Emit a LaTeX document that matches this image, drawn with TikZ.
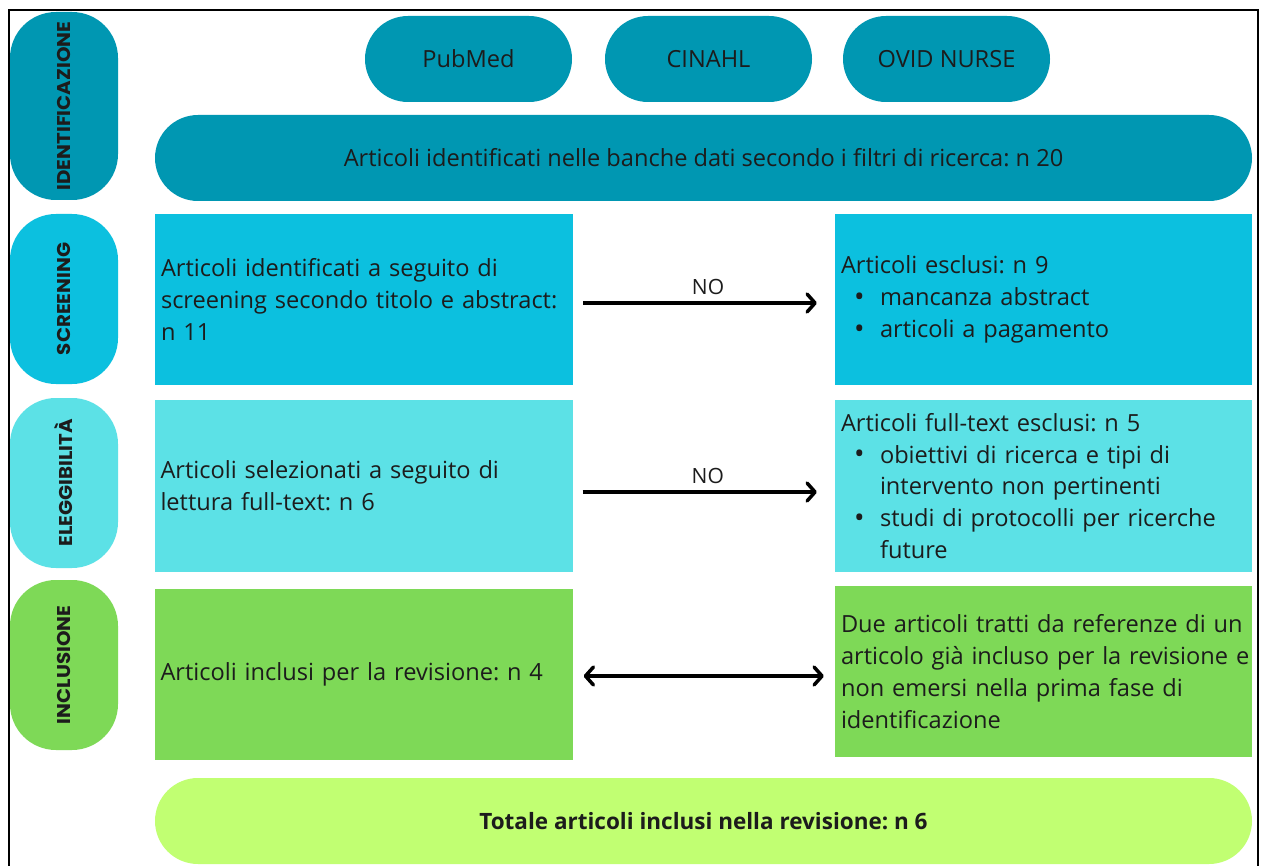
\documentclass[tikz,border=0pt]{standalone}
\usepackage{fontspec}
\setmainfont{Open Sans}
\newfontfamily\labfont{Poppins}[FakeStretch=1.07]
\usetikzlibrary{arrows.meta,calc}
\definecolor{cIdent}{HTML}{0097B2}
\definecolor{cScreen}{HTML}{0CC0DF}
\definecolor{cElig}{HTML}{5CE1E6}
\definecolor{cIncl}{HTML}{7ED957}
\definecolor{cTot}{HTML}{C1FF72}
\definecolor{cText}{HTML}{1C1C1C}
\newcommand\bul{\makebox[26pt][l]{\fontsize{28}{28}\selectfont\raisebox{-0.05ex}{•}}}
\frenchspacing
\begin{document}
\begin{tikzpicture}[x=1pt,y=-1pt,
  every node/.style={text=cText},
  txt/.style={font=\fontsize{23.6}{31.8}\selectfont},
  phase/.style={rectangle, rounded corners=46pt, minimum width=170pt, minimum height=108pt, inner sep=0pt,
     rotate=90, font=\labfont\bfseries\fontsize{18.5}{18.5}\selectfont},
  db/.style={rectangle, rounded corners=43pt, minimum width=207pt, minimum height=86pt, inner sep=0pt, fill=cIdent, txt},
  wide/.style={rectangle, rounded corners=43pt, minimum width=1097pt, minimum height=86pt, inner sep=0pt, txt},
  leftbox/.style={rectangle, inner xsep=6pt, inner ysep=0pt, text width=406pt, align=left, minimum height=171pt, txt},
  rightbox/.style={rectangle, inner xsep=6pt, inner ysep=0pt, text width=405pt, align=left, minimum height=171pt, txt},
  arr/.style={line width=3.5pt, -{Straight Barb[length=8pt,width=18pt,line width=3.5pt,round]}},
  darr/.style={line width=3.5pt, {Straight Barb[length=8pt,width=18pt,line width=3.5pt,round]}-{Straight Barb[length=8pt,width=18pt,line width=3.5pt,round]}},
  lbl/.style={font=\fontsize{21}{21}\selectfont}
]
\useasboundingbox (0,0) rectangle (1265,866);
\fill[white] (0,0) rectangle (1265,866);
\coordinate (fA) at (9,870);
\coordinate (fB) at (9,10);
\coordinate (fC) at (1258,10);
\coordinate (fD) at (1258,870);
\draw[line width=2pt] (fA) -- (fB) -- (fC) -- (fD);

% phase labels
\node[phase, fill=cIdent, minimum width=188pt] (pId) at (64,106) {IDENTIFICAZIONE};
\node[phase, fill=cScreen] (pSc) at (64,299) {SCREENING};
\node[phase, fill=cElig] (pEl) at (64,483) {ELEGGIBILITÀ};
\node[phase, fill=cIncl] (pIn) at (64,665) {INCLUSIONE};

% databases
\node[db] (pub) at (468.5,59) {PubMed};
\node[db] (cin) at (708.5,59) {CINAHL};
\node[db] (ovid) at (946.5,59) {OVID NURSE};

\node[wide, fill=cIdent] (ident) at (703.5,158) {Articoli identificati nelle banche dati secondo i filtri di ricerca: n 20};

% screening
\node[leftbox, fill=cScreen] (s1) at (364,299.5) {Articoli identificati a seguito di\\screening secondo titolo e abstract:\\n 11};
\node[rightbox, fill=cScreen] (s2) at (1043.5,299.5) {Articoli esclusi: n 9\\
\hspace*{13pt}\bul mancanza abstract\\
\hspace*{13pt}\bul articoli a pagamento};

% eligibility
\node[leftbox, fill=cElig, minimum height=172pt] (e1) at (363.5,486) {Articoli selezionati a seguito di\\lettura full-text: n 6};
\node[rightbox, fill=cElig, minimum height=172pt] (e2) at (1043.5,486) {Articoli full-text esclusi: n 5\\
\hspace*{13pt}\bul obiettivi di ricerca e tipi di\\
\hspace*{39pt}intervento non pertinenti\\
\hspace*{13pt}\bul studi di protocolli per ricerche\\
\hspace*{39pt}future};

% inclusion
\node[leftbox, fill=cIncl] (i1) at (363.5,674) {Articoli inclusi per la revisione: n 4};
\node[rightbox, fill=cIncl] (i2) at (1043.5,671.5) {\mbox{Due articoli tratti da referenze di un}\\\mbox{articolo già incluso per la revisione e}\\\mbox{non emersi nella prima fase di}\\\mbox{identificazione}};

% total
\node[wide, fill=cTot, font=\bfseries\fontsize{22.5}{22.5}\selectfont] (tot) at (703.5,821) {Totale articoli inclusi nella revisione: n 6};

% arrows
\draw[arr] ($(s1.east)+(10,3.5)$) -- node[lbl, above=3pt, xshift=8pt]{NO} ($(s2.west)+(-18,3.5)$);
\draw[arr] ($(e1.east)+(10,6)$) -- node[lbl, above=3pt, xshift=8pt]{NO} ($(e2.west)+(-18,6)$);
\draw[darr] ($(i1.east)+(11,2)$) -- ($(i2.west)+(-11,4.5)$);
\end{tikzpicture}
\end{document}
